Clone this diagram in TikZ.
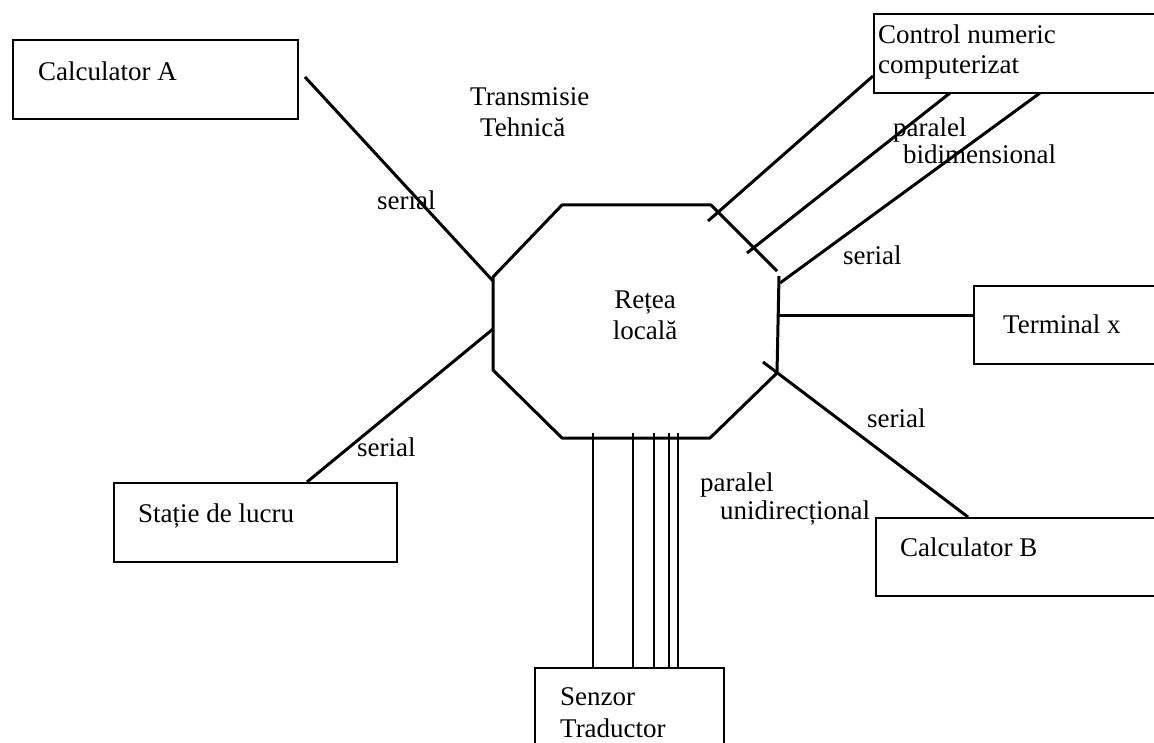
\documentclass[tikz,border=0pt]{standalone}
\usepackage{fontspec}
\setmainfont{Liberation Serif}
\begin{document}
\begin{tikzpicture}[x=1pt, y=-1pt,
  box/.style={draw, line width=2.4pt, inner sep=0pt, anchor=north west},
  wire/.style={line width=3pt},
  thinwire/.style={line width=2.2pt},
  lbl/.style={font=\fontsize{27}{31}\selectfont, inner sep=0pt, anchor=base west}]
\useasboundingbox (0,0) rectangle (1154,743);
\clip (0,0) rectangle (1154,743);

% peripheral boxes
\node[box, minimum width=285pt, minimum height=79pt] (calcA) at (12,39) {};
\node[box, minimum width=283pt, minimum height=79pt] (statie) at (113,482) {};
\node[box, minimum width=320pt, minimum height=79pt] (cnc) at (873,13) {};
\node[box, minimum width=220pt, minimum height=78pt] (term) at (973,285) {};
\node[box, minimum width=320pt, minimum height=78pt] (calcB) at (875,517) {};
\node[box, minimum width=189pt, minimum height=120pt] (senzor) at (534,667) {};

% octagon corners of the local network
\coordinate (v1) at (562,205);
\coordinate (v2) at (711,205);
\coordinate (v3) at (777,271);
\coordinate (v4) at (779,276);
\coordinate (v5) at (777,373);
\coordinate (v6) at (710,438);
\coordinate (v7) at (562,438);
\coordinate (v8) at (493,370);
\coordinate (v9) at (493,277);
\draw[line width=3pt, line join=round]
  (v4) -- (v5) -- (v6) -- (v7) -- (v8) -- (v9) -- (v1) -- (v2) -- (v3);

% connector end points
\coordinate (aS) at (305,77);
\coordinate (aE) at (493,281);
\coordinate (sS) at (307,482);
\coordinate (sE) at (493,329);
\coordinate (c1S) at (873,76);
\coordinate (c1E) at (708,221);
\coordinate (c2S) at (950,93);
\coordinate (c2E) at (747,253);
\coordinate (c3S) at (1040,93);
\coordinate (c3E) at (780,283);
\coordinate (tE) at (779,316);
\coordinate (bS) at (763,362);
\coordinate (bE) at (968,517);

\draw[wire] (aS) -- (aE);
\draw[wire] (sS) -- (sE);
\draw[wire] (c1S) -- (c1E);
\draw[wire] (c2S) -- (c2E);
\draw[wire] (c3S) -- (c3E);
\draw[wire] (tE) -- (term.west |- tE);
\draw[wire] (bS) -- (bE);

% parallel bus to the sensor
\foreach \x [count=\i] in {593,633,654,669,678}{
  \coordinate (p\i) at (\x,433);
  \draw[thinwire] (p\i) -- (p\i |- senzor.north);
}

% texts
\node[lbl] (tA) at (38,81) {Calculator A};
\node[lbl] (tS) at (138,522) {Stație de lucru};
\node[lbl] (tC1) at (878,44) {Control numeric};
\node[lbl] (tC2) at (878,74) {computerizat};
\node[lbl] (tT) at (1003,334) {Terminal x};
\node[lbl] (tB) at (900,556) {Calculator B};
\node[lbl] (tZ1) at (560,705) {Senzor};
\node[lbl] (tZ2) at (560,737) {Traductor};
\node[font=\fontsize{27}{31}\selectfont, inner sep=0pt, align=center] (net) at (645,315) {Rețea\\locală};
\node[lbl] (tr1) at (470,106) {Transmisie};
\node[lbl] (tr2) at (480,137) {Tehnică};
\node[lbl] (s1) at (377,210) {serial};
\node[lbl] (s2) at (357,456) {serial};
\node[lbl] (s3) at (843,265) {serial};
\node[lbl] (s4) at (867,427) {serial};
\node[lbl] (pb1) at (893,137) {paralel};
\node[lbl] (pb2) at (903,164) {bidimensional};
\node[lbl] (pu1) at (700,491) {paralel};
\node[lbl] (pu2) at (720,519) {unidirecțional};
\end{tikzpicture}
\end{document}
